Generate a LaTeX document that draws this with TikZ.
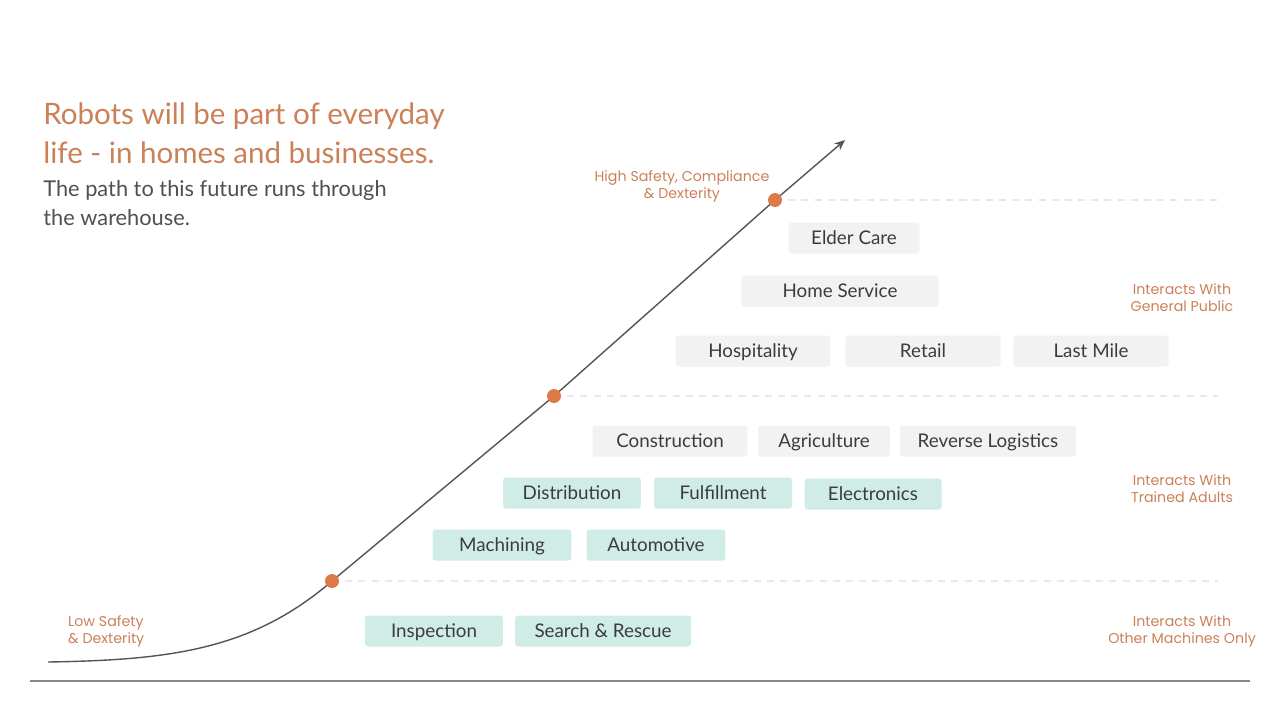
\documentclass[tikz,border=0pt]{standalone}
\usepackage{fontspec}
\setmainfont{Lato}
\newfontfamily\poppins{Poppins}
\usetikzlibrary{arrows.meta}

\begin{document}
\begin{tikzpicture}[x=0.02cm, y=-0.02cm,
	sector/.style={rounded corners=1.7pt, minimum height=0.62cm, inner sep=0pt, text height=7.6pt, text depth=0pt, text=boxtext, font=\fontsize{10.7}{12}\selectfont},
	tier/.style={align=center, text=accent, font=\poppins\fontsize{8.1}{9.6}\selectfont},
	dot/.style={circle, fill=dotcol, inner sep=0pt, minimum size=0.28cm},
	guide/.style={guidecol, line width=0.6pt, dash pattern=on 4pt off 3.5pt}]
	\definecolor{accent}{RGB}{204,128,88}
	\definecolor{dotcol}{RGB}{222,122,72}
	\definecolor{boxgray}{RGB}{242,242,242}
	\definecolor{boxteal}{RGB}{208,236,230}
	\definecolor{boxtext}{RGB}{60,60,60}
	\definecolor{guidecol}{RGB}{232,232,232}
	\definecolor{curvecol}{RGB}{85,85,85}
	\useasboundingbox[fill=white] (0,0) rectangle (1280,720);
	
	\node[anchor=north west, inner sep=0pt, align=left, text=accent, font=\fontsize{16.8}{22.7}\selectfont] (title) at (43,102) {Robots will be part of everyday\\life - in homes and businesses.};
	\node[anchor=north west, inner sep=0pt, align=left, text=boxtext!90, font=\fontsize{12.4}{16.4}\selectfont] (sub) at (43,180) {The path to this future runs through\\the warehouse.};
	
	\coordinate (start) at (48,662);
	\coordinate (p1) at (332,581);
	\coordinate (p2) at (554,396);
	\coordinate (p3) at (775,200);
	\coordinate (tip) at (845,140);
	\draw[curvecol, line width=0.8pt, -{Stealth[length=6pt, width=5pt]}] (start) .. controls (170,660) and (252,650) .. (p1) -- (p2) -- (p3) -- (tip);
	\foreach \p/\e in {p1/e1, p2/e2, p3/e3} {
		\coordinate (\e) at (1218, 0 |- \p);
		\draw[guide] (\p) -- (\e);
		\node[dot] (d\p) at (\p) {};
	}
	
	\foreach \nm/\x/\y/\w/\txt in {elder/854/238/2.62/Elder Care, homesrv/840/291/3.94/Home Service, hosp/753/351/3.10/Hospitality, retail/923/351/3.10/Retail, lastmile/1091/351/3.10/Last Mile, constr/670/441/3.10/Construction, agri/824/441/2.64/Agriculture, revlog/988/441/3.52/Reverse Logistics}
		\node[sector, fill=boxgray, minimum width=\w cm] (\nm) at (\x,\y) {\txt};
	\foreach \nm/\x/\y/\w/\txt in {distr/572/493/2.76/Distribution, fulfil/723/493/2.76/Fulfillment, electr/873/494/2.74/Electronics, mach/502/545/2.78/Machining, auto/656/545/2.78/Automotive, insp/434/631/2.76/Inspection, search/603/631/3.52/Search \& Rescue}
		\node[sector, fill=boxteal, minimum width=\w cm] (\nm) at (\x,\y) {\txt};
	
	\node[tier] (high) at (682,186) {High Safety, Compliance\\\& Dexterity};
	\node[tier, align=left, anchor=west] (low) at (62,631) {Low Safety\\\& Dexterity};
	\node[tier] (public) at (1182,298) {Interacts With\\General Public};
	\node[tier] (adults) at (1182,489) {Interacts With\\Trained Adults};
	\node[tier] (machines) at (1182,631) {Interacts With\\Other Machines Only};
	
	\coordinate (axl) at (30,681);
	\coordinate (axr) at (1250,681);
	\draw[curvecol!70, line width=0.8pt] (axl) -- (axr);
\end{tikzpicture}
\end{document}
